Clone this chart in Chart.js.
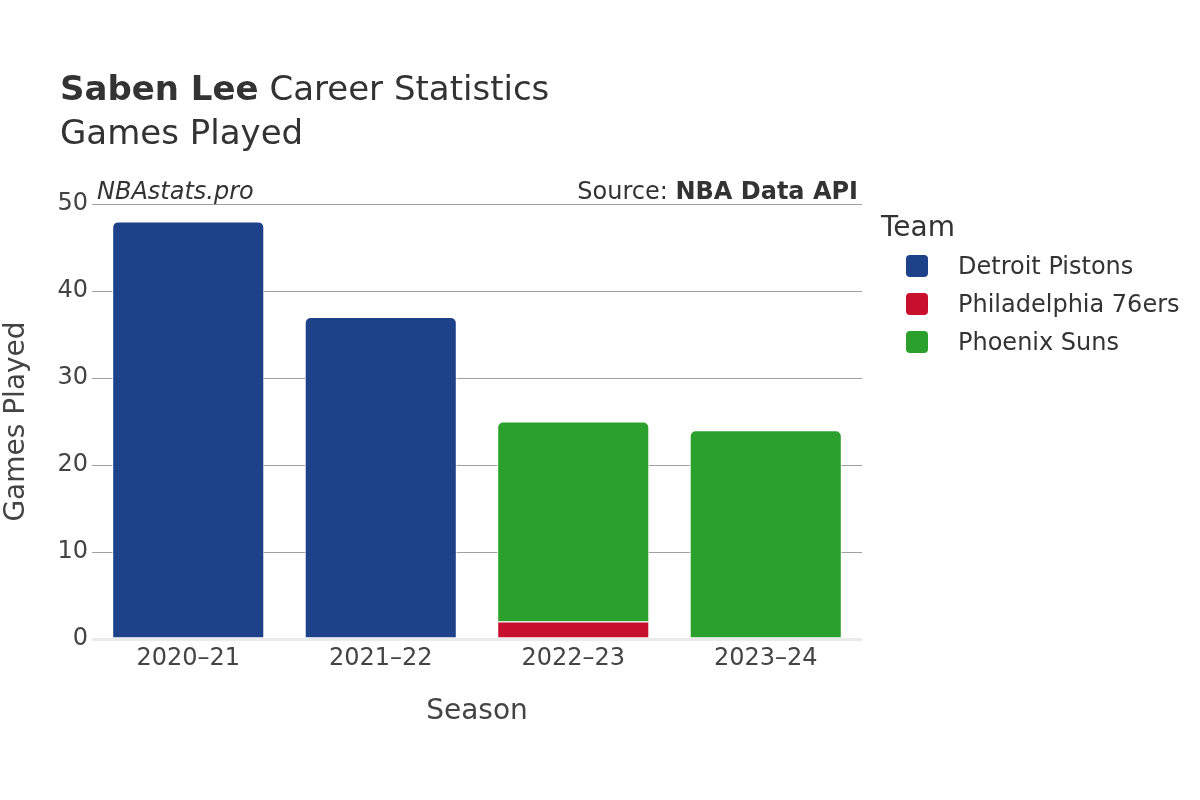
<!DOCTYPE html>
<html>
<head>
<meta charset="utf-8">
<script src="https://cdn.jsdelivr.net/npm/chart.js@4/dist/chart.umd.min.js"></script>
<style>
  body { margin: 0; background: #fff; }
  #wrap { position: relative; width: 1200px; height: 800px; font-family: "DejaVu Sans", sans-serif; color: #333; }
  #chart { position: absolute; left: 0; top: 0; }
  .txt { position: absolute; white-space: nowrap; }
  #title { left: 60px; top: 68px; font-size: 34px; line-height: 40px; }
  #subtitle { left: 60px; top: 112px; font-size: 34px; line-height: 40px; }
  #brand { left: 97px; top: 177px; font-size: 24px; font-style: italic; line-height: 28px; }
  #source { right: 342px; top: 177px; font-size: 24px; line-height: 28px; }
  #legend-title { left: 881px; top: 210px; font-size: 28px; line-height: 34px; }
  .leg { position: absolute; left: 906px; font-size: 24px; line-height: 28px; }
  .leg span.box { position: absolute; left: 0; top: 3px; width: 22px; height: 22px; border-radius: 4px; }
  .leg span.lbl { position: absolute; left: 52px; top: 0; white-space: nowrap; }
</style>
</head>
<body>
<div id="wrap">
  <canvas id="chart" width="1200" height="800"></canvas>
  <div id="title" class="txt"><b>Saben Lee</b> Career Statistics</div>
  <div id="subtitle" class="txt">Games Played</div>
  <div id="brand" class="txt">NBAstats.pro</div>
  <div id="source" class="txt">Source: <b>NBA Data API</b></div>
  <div id="legend-title" class="txt">Team</div>
  <div id="legend"></div>
</div>
<script>
const seasons = ['2020–21', '2021–22', '2022–23', '2023–24'];
const teams = ['Detroit Pistons', 'Philadelphia 76ers', 'Phoenix Suns'];
const teamColors = ['#1d428a', '#c8102e', '#2ca02c'];
const detroitGames = [48, 37, null, null];
const philadelphiaGames = [null, null, 2, null];
const phoenixGames = [null, null, 23, 24];
const yTicks = [0, 10, 20, 30, 40, 50];

const seriesValues = [detroitGames, philadelphiaGames, phoenixGames];

/**
 * Builds the HTML legend next to the chart.
 */
function buildLegend() {
  const legend = document.getElementById('legend');
  teams.forEach((team, i) => {
    const row = document.createElement('div');
    row.className = 'leg';
    row.style.top = (252 + i * 38) + 'px';
    row.innerHTML = `<span class="box" style="background:${teamColors[i]}"></span><span class="lbl">${team}</span>`;
    legend.appendChild(row);
  });
}

buildLegend();

const ctx = document.getElementById('chart').getContext('2d');

new Chart(ctx, {
  type: 'bar',
  data: {
    labels: seasons,
    datasets: teams.map((team, i) => ({
      label: team,
      data: seriesValues[i],
      backgroundColor: teamColors[i],
      borderColor: '#ffffff',
      borderWidth: 1,
      borderRadius: 6,
      barPercentage: 0.79,
      categoryPercentage: 1
    }))
  },
  options: {
    responsive: false,
    animation: false,
    layout: { padding: { top: 204, right: 338, left: 0, bottom: 0 } },
    plugins: {
      legend: { display: false },
      tooltip: { enabled: false }
    },
    scales: {
      x: {
        stacked: true,
        grid: { display: false, drawTicks: false },
        border: { display: false },
        ticks: { color: '#444', font: { family: 'DejaVu Sans', size: 24 }, padding: 5 },
        title: {
          display: true,
          text: 'Season',
          color: '#444',
          font: { family: 'DejaVu Sans', size: 28 },
          padding: { top: 0, bottom: 71 }
        },
        afterFit(scale) { scale.height = 161; }
      },
      y: {
        stacked: true,
        min: 0,
        max: 50,
        afterBuildTicks(scale) { scale.ticks = yTicks.map(v => ({ value: v })); },
        grid: {
          drawTicks: false,
          color(c) { return c.tick && c.tick.value === 0 ? '#ebebeb' : '#a0a0a0'; },
          lineWidth(c) { return c.tick && c.tick.value === 0 ? 3 : 1; }
        },
        border: { display: false },
        ticks: { color: '#444', font: { family: 'DejaVu Sans', size: 24 }, padding: 4 },
        title: {
          display: true,
          text: 'Games Played',
          color: '#444',
          font: { family: 'DejaVu Sans', size: 28 },
          padding: { top: 0, bottom: 0 }
        },
        afterFit(scale) { scale.width = 92; }
      }
    }
  }
});
</script>
</body>
</html>
